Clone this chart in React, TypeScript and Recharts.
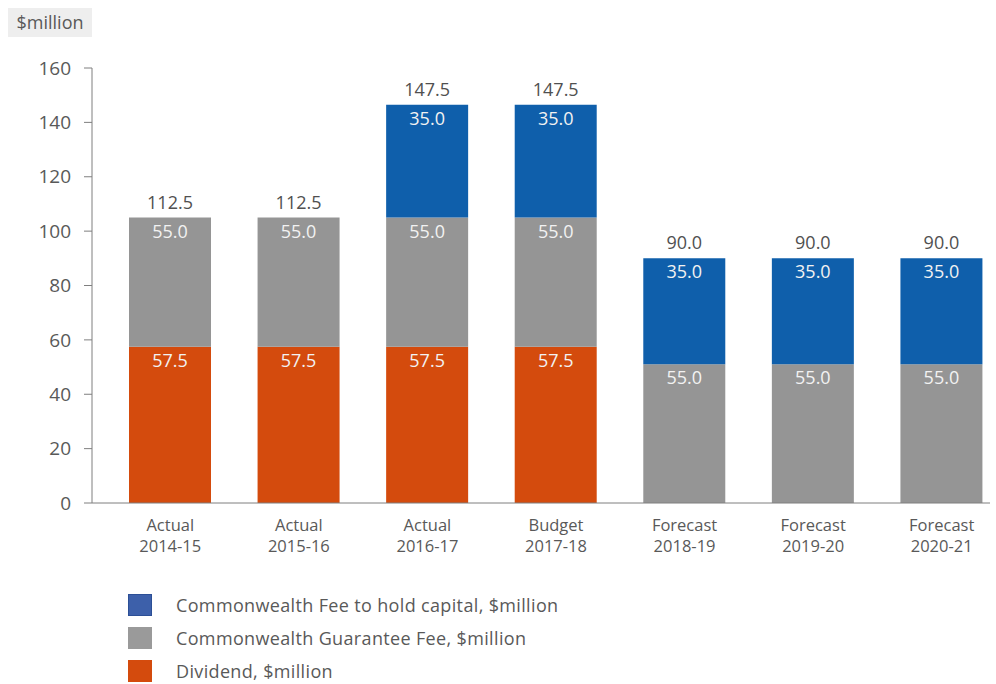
import { BarChart, Bar, XAxis, YAxis, LabelList } from "recharts";

const periods = ["Actual", "Actual", "Actual", "Budget", "Forecast", "Forecast", "Forecast"];
const years = ["2014-15", "2015-16", "2016-17", "2017-18", "2018-19", "2019-20", "2020-21"];

// segment heights as drawn in the source picture
const dividend = [57.5, 57.5, 57.5, 57.5, 0, 0, 0];
const guaranteeFee = [47.5, 47.5, 47.5, 47.5, 51, 51, 51];
const capitalFee = [0, 0, 41.5, 41.5, 39, 39, 39];

// labels printed on the bars
const dividendLabels = ["57.5", "57.5", "57.5", "57.5", "", "", ""];
const guaranteeLabels = ["55.0", "55.0", "55.0", "55.0", "55.0", "55.0", "55.0"];
const capitalLabels = ["", "", "35.0", "35.0", "35.0", "35.0", "35.0"];
const totalLabels = ["112.5", "112.5", "147.5", "147.5", "90.0", "90.0", "90.0"];

const yTicks = [0, 20, 40, 60, 80, 100, 120, 140, 160];

const FONT = "'Open Sans', sans-serif";
const BLUE = "#0f5fab";
const GRAY = "#959595";
const ORANGE = "#d44b0d";
const AXIS = "#7f7f7f";

const data = years.map((year, i) => ({
  year,
  period: periods[i],
  dividend: dividend[i],
  guarantee: guaranteeFee[i],
  capital: capitalFee[i],
  dividendLabel: dividendLabels[i],
  guaranteeLabel: guaranteeLabels[i],
  capitalLabel: capitalLabels[i],
  totalOnGray: capitalFee[i] > 0 ? "" : totalLabels[i],
  totalOnBlue: capitalFee[i] > 0 ? totalLabels[i] : "",
}));

const legendItems = [
  { label: "Commonwealth Fee to hold capital, $million", color: "#3d60aa", border: "#2c4f96" },
  { label: "Commonwealth Guarantee Fee, $million", color: "#9a9a9a", border: "#9a9a9a" },
  { label: "Dividend, $million", color: "#d44b0d", border: "#d44b0d" },
];

function InnerLabel(props: any) {
  const { x, y, width, value } = props;
  if (!value) return null;
  return (
    <text x={x + width / 2} y={y + 20} textAnchor="middle" fill="#f2f2f2" fontSize={18} fontFamily={FONT}>
      {value}
    </text>
  );
}

function TotalLabel(props: any) {
  const { x, y, width, value } = props;
  if (!value) return null;
  return (
    <text x={x + width / 2} y={y - 9} textAnchor="middle" fill="#505050" fontSize={18} fontFamily={FONT}>
      {value}
    </text>
  );
}

function CategoryTick(props: any) {
  const { x, y, payload } = props;
  const i = payload.index;
  return (
    <g>
      <text x={x} y={y + 28} textAnchor="middle" fill="#595959" fontSize={16.5} fontFamily={FONT}>
        {periods[i]}
      </text>
      <text x={x} y={y + 49} textAnchor="middle" fill="#595959" fontSize={16.5} fontFamily={FONT}>
        {years[i]}
      </text>
    </g>
  );
}

export default function App() {
  return (
    <div style={{ position: "absolute", left: 0, top: 0, width: 996, height: 684, background: "#fff", fontFamily: FONT }}>
      <div
        style={{
          position: "absolute",
          left: 8,
          top: 8,
          width: 84,
          height: 29,
          background: "#eeeeee",
          color: "#595959",
          fontSize: 18,
          lineHeight: "29px",
          textAlign: "center",
        }}
      >
        $million
      </div>
      <BarChart
        width={996}
        height={560}
        data={data}
        margin={{ top: 68, right: 6, bottom: 0, left: 0 }}
        barSize={82}
      >
        <XAxis
          dataKey="year"
          axisLine={{ stroke: AXIS }}
          tickLine={false}
          tickSize={0}
          tickMargin={0}
          height={57}
          interval={0}
          padding={{ left: 14, right: -16 }}
          tick={<CategoryTick />}
        />
        <YAxis
          domain={[0, 160]}
          ticks={yTicks}
          width={92}
          axisLine={{ stroke: AXIS }}
          tickLine={{ stroke: AXIS }}
          tickSize={8}
          tickMargin={13}
          tick={{ fill: "#595959", fontSize: 19, fontFamily: FONT }}
        />
        <Bar dataKey="dividend" stackId="a" fill={ORANGE} isAnimationActive={false}>
          <LabelList dataKey="dividendLabel" content={<InnerLabel />} />
        </Bar>
        <Bar dataKey="guarantee" stackId="a" fill={GRAY} isAnimationActive={false}>
          <LabelList dataKey="guaranteeLabel" content={<InnerLabel />} />
          <LabelList dataKey="totalOnGray" content={<TotalLabel />} />
        </Bar>
        <Bar dataKey="capital" stackId="a" fill={BLUE} isAnimationActive={false}>
          <LabelList dataKey="capitalLabel" content={<InnerLabel />} />
          <LabelList dataKey="totalOnBlue" content={<TotalLabel />} />
        </Bar>
      </BarChart>
      {legendItems.map((item, i) => (
        <div key={item.label} style={{ position: "absolute", left: 128, top: 594 + i * 33, height: 22, display: "flex", alignItems: "center" }}>
          <div style={{ width: 22, height: 20, background: item.color, border: `1px solid ${item.border}` }} />
          <span style={{ marginLeft: 24, fontSize: 18, lineHeight: "22px", letterSpacing: 0.35, color: "#595959", whiteSpace: "nowrap" }}>{item.label}</span>
        </div>
      ))}
    </div>
  );
}
